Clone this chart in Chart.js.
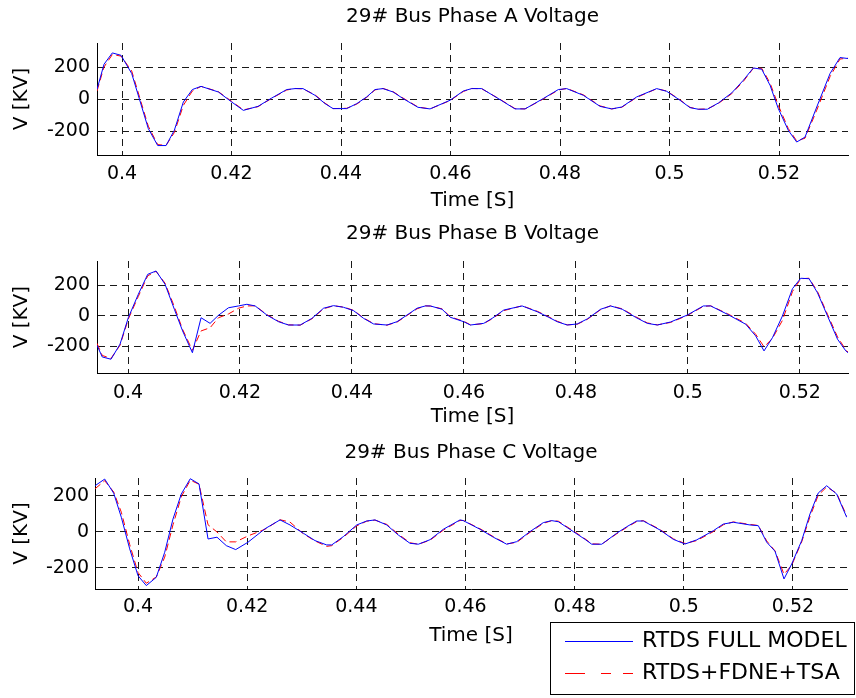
<!DOCTYPE html>
<html>
<head>
<meta charset="utf-8">
<title>29# Bus Phase Voltages</title>
<script src="https://cdn.jsdelivr.net/npm/chart.js@4.4.0/dist/chart.umd.min.js"></script>
<style>
  html, body { margin: 0; padding: 0; background: #fff; }
  body { width: 856px; height: 698px; position: relative; overflow: hidden; }
  canvas { position: absolute; left: 0; }
  #chartA { top: 0; }
  #chartB { top: 220px; }
  #chartC { top: 438px; }
</style>
</head>
<body>
<canvas id="chartA" width="856" height="218"></canvas>
<canvas id="chartB" width="856" height="213"></canvas>
<canvas id="chartC" width="856" height="260"></canvas>
<script>
// Phase A: sample times (s) and voltages (kV)
const tA = [0.39543, 0.39671, 0.39823, 0.39982, 0.40177, 0.40480, 0.40652, 0.40804, 0.40955, 0.41120,
  0.41284, 0.41443, 0.41759, 0.42004, 0.42216, 0.42484, 0.42734, 0.43008, 0.43160, 0.43306,
  0.43525, 0.43708, 0.43854, 0.44104, 0.44287, 0.44469, 0.44621, 0.44767, 0.44950, 0.45132,
  0.45406, 0.45626, 0.45991, 0.46234, 0.46387, 0.46570, 0.46904, 0.47178, 0.47361, 0.47695,
  0.47969, 0.48122, 0.48426, 0.48731, 0.48944, 0.49127, 0.49401, 0.49766, 0.49949, 0.50192,
  0.50374, 0.50526, 0.50691, 0.50892, 0.51136, 0.51348, 0.51531, 0.51684, 0.51836, 0.51987,
  0.52170, 0.52323, 0.52475, 0.52689, 0.52932, 0.53114, 0.53260];
const fullA = [60, 217, 288, 273, 159, -185, -291, -291, -196, -19,
  59, 79, 44, -19, -71, -46, 6, 59, 65, 65,
  23, -29, -60, -60, -29, 13, 59, 65, 44, 3,
  -52, -62, -8, 50, 65, 65, -4, -62, -62, 3,
  59, 65, 23, -46, -62, -50, 13, 65, 48, -8,
  -54, -64, -64, -25, 38, 117, 194, 186, 86, -60,
  -196, -269, -238, -50, 159, 259, 253];
const fdneA = [50, 200, 278, 268, 175, -170, -285, -290, -210, -40,
  50, 79, 46, -15, -68, -48, 4, 56, 66, 63,
  26, -26, -60, -58, -32, 10, 57, 66, 46, 6,
  -50, -62, -10, 47, 66, 64, -2, -60, -62, 0,
  56, 66, 26, -43, -62, -52, 10, 64, 50, -5,
  -52, -64, -62, -28, 33, 110, 192, 192, 100, -40,
  -185, -262, -245, -70, 140, 250, 255];

// Phase B
const tB = [0.39446, 0.39540, 0.39696, 0.39857, 0.40005, 0.40184, 0.40352, 0.40501, 0.40662, 0.40828,
  0.40975, 0.41150, 0.41305, 0.41466, 0.41615, 0.41794, 0.41973, 0.42123, 0.42271, 0.42480,
  0.42688, 0.42867, 0.43076, 0.43285, 0.43493, 0.43671, 0.43850, 0.44029, 0.44208, 0.44387,
  0.44626, 0.44805, 0.44984, 0.45163, 0.45311, 0.45401, 0.45610, 0.45758, 0.45996, 0.46116,
  0.46354, 0.46504, 0.46712, 0.47040, 0.47309, 0.47516, 0.47666, 0.47845, 0.48024, 0.48203,
  0.48441, 0.48620, 0.48829, 0.49067, 0.49276, 0.49455, 0.49692, 0.49991, 0.50277, 0.50408,
  0.50707, 0.51034, 0.51212, 0.51361, 0.51511, 0.51690, 0.51869, 0.52017, 0.52166, 0.52316,
  0.52495, 0.52674, 0.52822, 0.52861];
const fullB = [-195, -272, -287, -188, -13, 142, 274, 296, 208, 43,
  -100, -244, -13, -50, 3, 53, 65, 76, 65, 5,
  -39, -61, -61, -17, 50, 67, 56, 34, -17, -54,
  -61, -39, 5, 50, 65, 65, 43, -10, -39, -61,
  -50, -17, 38, 65, 27, -10, -39, -61, -54, -21,
  43, 65, 43, -10, -50, -61, -41, 5, 65, 65,
  10, -56, -133, -232, -145, -1, 179, 248, 245, 152,
  -1, -155, -232, -244];
const fdneB = [-182, -262, -282, -195, -22, 128, 264, 294, 215, 60,
  -90, -228, -100, -79, -13, 12, 50, 65, 66, 8,
  -36, -60, -62, -20, 46, 66, 58, 36, -14, -52,
  -62, -42, 2, 46, 66, 64, 46, -7, -36, -60,
  -52, -20, 34, 66, 30, -7, -36, -60, -56, -24,
  40, 66, 46, -6, -47, -60, -44, 2, 62, 66,
  14, -50, -122, -205, -150, -30, 160, 245, 248, 160,
  10, -140, -225, -240];

// Phase C
const tC = [0.39212, 0.39390, 0.39555, 0.39694, 0.39848, 0.40000, 0.40152, 0.40335, 0.40489, 0.40641,
  0.40793, 0.40958, 0.41118, 0.41283, 0.41447, 0.41618, 0.41790, 0.42015, 0.42327, 0.42602,
  0.42785, 0.43029, 0.43243, 0.43457, 0.43549, 0.43761, 0.44007, 0.44190, 0.44342, 0.44557,
  0.44769, 0.44984, 0.45136, 0.45350, 0.45594, 0.45900, 0.45960, 0.46266, 0.46510, 0.46755,
  0.46938, 0.47182, 0.47426, 0.47580, 0.47701, 0.47976, 0.48190, 0.48313, 0.48496, 0.48771,
  0.48954, 0.49137, 0.49258, 0.49564, 0.49808, 0.50022, 0.50236, 0.50541, 0.50724, 0.50907,
  0.51213, 0.51365, 0.51519, 0.51671, 0.51836, 0.51977, 0.52160, 0.52312, 0.52464, 0.52618,
  0.52801, 0.52984];
const fullC = [257, 294, 215, 82, -94, -243, -298, -252, -113, 72,
  211, 296, 267, -39, -29, -76, -98, -57, 18, 67,
  39, -7, -48, -72, -72, -26, 39, 61, 67, 39,
  -17, -63, -68, -43, 15, 67, 63, 15, -29, -68,
  -54, 2, 52, 63, 57, 2, -41, -68, -68, -7,
  29, 61, 61, 11, -41, -67, -44, 7, 44, 54,
  39, 35, -57, -107, -261, -178, -48, 100, 217, 257,
  211, 82];
const fdneC = [240, 285, 222, 110, -70, -225, -285, -250, -140, 40,
  195, 288, 265, 40, 0, -55, -55, -22, 15, 68,
  55, -10, -50, -80, -76, -30, 34, 60, 66, 42,
  -12, -60, -68, -46, 10, 64, 64, 18, -26, -66,
  -58, -2, 48, 63, 60, 6, -38, -66, -68, -10,
  25, 58, 63, 14, -38, -64, -48, 2, 40, 56,
  42, 36, -50, -105, -235, -185, -55, 85, 205, 250,
  215, 90];

const xTicks = [0.4, 0.42, 0.44, 0.46, 0.48, 0.5, 0.52];
const xTickLabels = ['0.4', '0.42', '0.44', '0.46', '0.48', '0.5', '0.52'];
const yTicks = [-200, 0, 200];
const yTickLabels = ['-200', '0', '200'];
const seriesNames = ['RTDS FULL MODEL', 'RTDS+FDNE+TSA'];
const panelTitles = ['29# Bus Phase A Voltage', '29# Bus Phase B Voltage', '29# Bus Phase C Voltage'];

const FONT = "'DejaVu Sans', sans-serif";
Chart.defaults.font.family = FONT;
Chart.defaults.color = '#000';

function pairs(t, v) {
  return t.map((x, i) => ({ x: x, y: v[i] }));
}

// boxed legend under the last panel
const legendBox = {
  id: 'legendBox',
  afterDraw(chart) {
    const ctx = chart.ctx;
    ctx.save();
    ctx.strokeStyle = '#000';
    ctx.lineWidth = 1;
    ctx.setLineDash([]);
    ctx.strokeRect(550.5, 184.5, 304, 72);
    ctx.font = '22px ' + FONT;
    ctx.textBaseline = 'middle';
    ctx.fillStyle = '#000';
    const rowY = [203, 235];
    chart.data.datasets.forEach((ds, i) => {
      const y = rowY[i] + 0.5;
      ctx.strokeStyle = ds.borderColor;
      ctx.setLineDash(ds.borderDash ? [20, 16, 10, 12] : []);
      ctx.beginPath();
      ctx.moveTo(565, y);
      ctx.lineTo(633, y);
      ctx.stroke();
      ctx.fillText(ds.label, 642, rowY[i]);
    });
    ctx.restore();
  }
};

function drawPanel(id, title, t, full, fdne, range, box, plugins) {
  return new Chart(document.getElementById(id), {
    type: 'line',
    data: {
      datasets: [
        { label: seriesNames[0], data: pairs(t, full), borderColor: '#0000ff', borderWidth: 1,
          pointRadius: 0, tension: 0, fill: false },
        { label: seriesNames[1], data: pairs(t, fdne), borderColor: '#ff0000', borderWidth: 1,
          borderDash: [7, 4], pointRadius: 0, tension: 0, fill: false }
      ]
    },
    plugins: plugins || [],
    options: {
      responsive: false,
      animation: false,
      events: [],
      layout: { padding: { left: 0, right: box.padRight, top: 0, bottom: box.padBottom } },
      plugins: {
        legend: { display: false },
        tooltip: { enabled: false },
        title: {
          display: true, text: title, fullSize: false, color: '#000',
          font: { size: 20, weight: 'normal' },
          padding: { top: box.titleTop, bottom: box.titleBottom }
        }
      },
      scales: {
        x: {
          type: 'linear', min: range.x0, max: range.x1,
          afterBuildTicks: s => { s.ticks = xTicks.map(v => ({ value: v })); },
          afterFit: s => { s.height = box.xHeight; },
          ticks: { autoSkip: false, maxRotation: 0, padding: box.xTickPad, font: { size: 19 },
            callback: (v, i) => xTickLabels[i] },
          grid: { color: '#1a1a1a', lineWidth: 1, drawTicks: false },
          border: { display: true, color: '#000', width: 1, dash: [7, 5] },
          title: { display: true, text: 'Time [S]', font: { size: 20 },
            padding: { top: 0, bottom: box.xTitleBottom } }
        },
        y: {
          type: 'linear', min: range.y0, max: range.y1,
          afterBuildTicks: s => { s.ticks = yTicks.map(v => ({ value: v })); },
          afterFit: s => { s.width = box.yWidth; },
          ticks: { autoSkip: false, padding: box.yTickPad, font: { size: 19 },
            callback: (v, i) => yTickLabels[i] },
          grid: { color: '#1a1a1a', lineWidth: 1, drawTicks: false },
          border: { display: true, color: '#000', width: 1, dash: [7, 5] },
          title: { display: true, text: 'V [KV]', font: { size: 20 },
            padding: { top: 10, bottom: 0 } }
        }
      }
    }
  });
}

drawPanel('chartA', panelTitles[0], tA, fullA, fdneA,
  { x0: 0.39543, x1: 0.53260, y0: -350, y1: 350 },
  { padRight: 8, padBottom: 0, titleTop: 4.5, titleBottom: 14.5, xHeight: 63,
    xTickPad: 8, xTitleBottom: 5, yWidth: 97, yTickPad: 7 });

drawPanel('chartB', panelTitles[1], tB, fullB, fdneB,
  { x0: 0.39446, x1: 0.52861, y0: -380, y1: 362 },
  { padRight: 8, padBottom: 0, titleTop: 2, titleBottom: 15, xHeight: 59.7,
    xTickPad: 8, xTitleBottom: 4, yWidth: 97, yTickPad: 7 });

drawPanel('chartC', panelTitles[2], tC, fullC, fdneC,
  { x0: 0.39212, x1: 0.52990, y0: -317, y1: 300 },
  { padRight: 9, padBottom: 49, titleTop: 2.5, titleBottom: 13.5, xHeight: 60,
    xTickPad: 6.6, xTitleBottom: 1, yWidth: 95, yTickPad: 6 },
  [legendBox]);
</script>
</body>
</html>
